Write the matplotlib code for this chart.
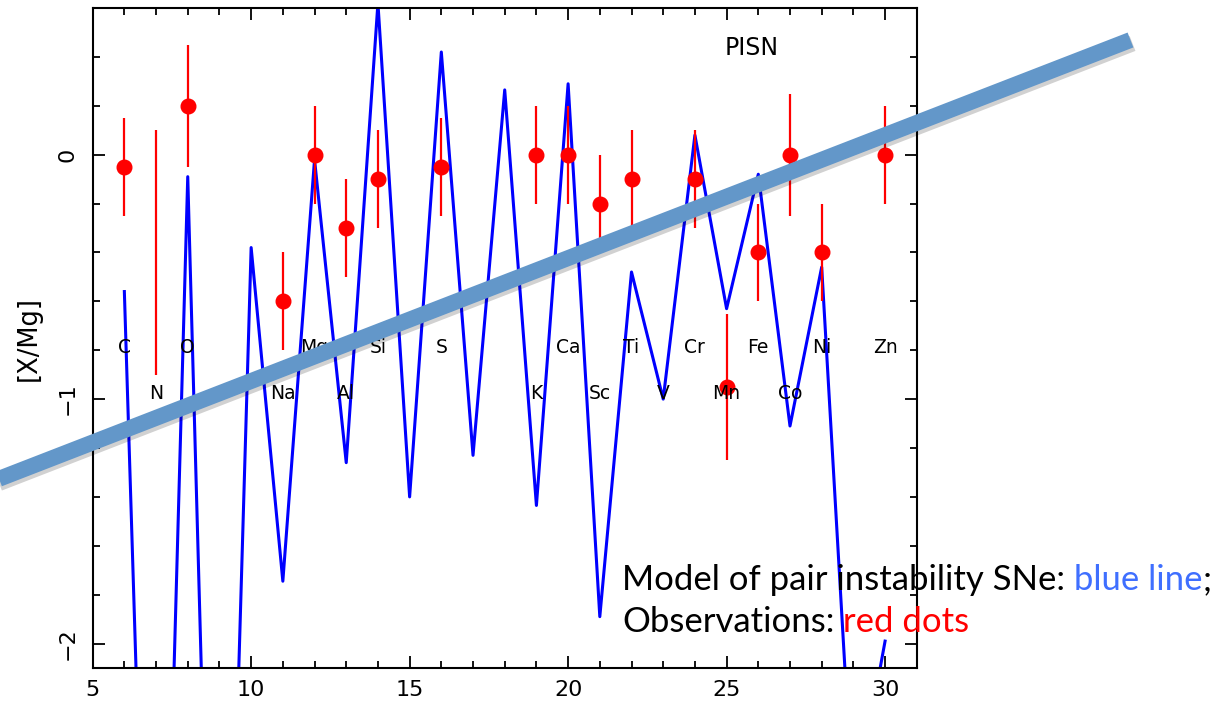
import numpy as np
import matplotlib
matplotlib.use("Agg")
from matplotlib import pyplot as plt
from matplotlib.lines import Line2D
import matplotlib.patheffects as pe
from matplotlib.ticker import MultipleLocator

plt.rcParams['font.family'] = ['DejaVu Sans']

# model yields (pair instability SN), Z = 6..30
model_z = np.arange(6, 31)
model_xmg = [-0.56, -4.75, -0.09, -4.8, -0.38, -1.745, -0.02, -1.26, 0.62, -1.40,
             0.42, -1.23, 0.265, -1.435, 0.29, -1.89, -0.48, -1.0, 0.08, -0.63,
             -0.08, -1.11, -0.46, -2.7, -1.99]

# observations (N has only a range, no dot)
obs_z = [6, 7, 8, 11, 12, 13, 14, 16, 19, 20, 21, 22, 24, 25, 26, 27, 28, 30]
obs_xmg = [-0.05, np.nan, 0.2, -0.6, 0.0, -0.3, -0.1, -0.05, 0.0, 0.0,
           -0.2, -0.1, -0.1, -0.95, -0.4, 0.0, -0.4, 0.0]
obs_hi = [0.15, 0.1, 0.45, -0.4, 0.2, -0.1, 0.1, 0.15, 0.2, 0.2,
          0.0, 0.1, 0.1, -0.65, -0.2, 0.25, -0.2, 0.2]
obs_lo = [-0.25, -0.9, -0.05, -0.8, -0.2, -0.5, -0.3, -0.25, -0.2, -0.2,
          -0.4, -0.3, -0.3, -1.25, -0.6, -0.25, -0.6, -0.2]

# element names
upper_el = ["C", "O", "Mg", "Si", "S", "Ca", "Ti", "Cr", "Fe", "Ni", "Zn"]
upper_z = [6, 8, 12, 14, 16, 20, 22, 24, 26, 28, 30]
lower_el = ["N", "Na", "Al", "K", "Sc", "V", "Mn", "Co"]
lower_z = [7, 11, 13, 19, 21, 23, 25, 27]

fig = plt.figure(figsize=(12.24, 7.03), dpi=100)
ax = fig.add_axes([0.0757, 0.0498, 0.6733, 0.9388])

ax.plot(model_z, model_xmg, color="#0000ff", lw=2.2, zorder=2)
ax.vlines(obs_z, obs_lo, obs_hi, color="#ff0000", lw=1.6, zorder=3)
ax.plot(obs_z, obs_xmg, "o", color="#ff0000", ms=10.5, zorder=4)

for el, z in zip(upper_el, upper_z):
    ax.text(z, -0.81, el, ha="center", va="baseline", fontsize=13.5, zorder=5)
for el, z in zip(lower_el, lower_z):
    ax.text(z, -1.0, el, ha="center", va="baseline", fontsize=13.5, zorder=5)

ax.text(25.78, 0.436, "PISN", ha="center", va="center", fontsize=17)

ax.set_xlim(5, 31)
ax.set_ylim(-2.1, 0.6)
ax.set_xticks([5, 10, 15, 20, 25, 30])
ax.set_yticks([-2, -1, 0])
ax.set_yticklabels(["\u22122", "\u22121", "0"])
ax.xaxis.set_minor_locator(MultipleLocator(1))
ax.yaxis.set_minor_locator(MultipleLocator(0.2))
ax.tick_params(which="both", direction="in", top=True, right=True, width=1.3)
ax.tick_params(which="major", length=8.5)
ax.tick_params(which="minor", length=5)
ax.tick_params(axis="x", labelsize=16, pad=9)
ax.tick_params(axis="y", labelsize=16, pad=11, labelrotation=90)
for t in ax.get_yticklabels():
    t.set_va("center")
for s in ax.spines.values():
    s.set_linewidth(1.5)
ax.set_ylabel("[X/Mg]", fontsize=18.5)
ax.yaxis.set_label_coords(-0.062, 0.5)

# thick slanted band across the figure
band = Line2D([-0.01, 0.9236], [0.3127, 0.9431], transform=fig.transFigure,
              color="#6397c9", lw=11.5, solid_capstyle="butt", zorder=10,
              path_effects=[pe.SimpleLineShadow(offset=(1.5, -2.5), shadow_color="k", alpha=0.18),
                            pe.Normal()])
fig.add_artist(band)

# caption with coloured parts
fs = 25
cap_font = "Lato"
x0 = 622 / 1224
fig.canvas.draw()
r = fig.canvas.get_renderer()
t1 = fig.text(x0, 1 - 590 / 703, "Model of pair instability SNe:", fontsize=fs, family=cap_font, zorder=11)
w = t1.get_window_extent(r).x1 / fig.bbox.width
t2 = fig.text(w, 1 - 590 / 703, " blue line", fontsize=fs, family=cap_font, color="#3f6fff", zorder=11)
w = t2.get_window_extent(r).x1 / fig.bbox.width
fig.text(w, 1 - 590 / 703, ";", fontsize=fs, family=cap_font, zorder=11)
t3 = fig.text(x0, 1 - 632 / 703, "Observations:", fontsize=fs, family=cap_font, zorder=11)
w = t3.get_window_extent(r).x1 / fig.bbox.width
fig.text(w, 1 - 632 / 703, " red dots", fontsize=fs, family=cap_font, color="#ff0000", zorder=11)

fig.savefig("out.png", dpi=100)
